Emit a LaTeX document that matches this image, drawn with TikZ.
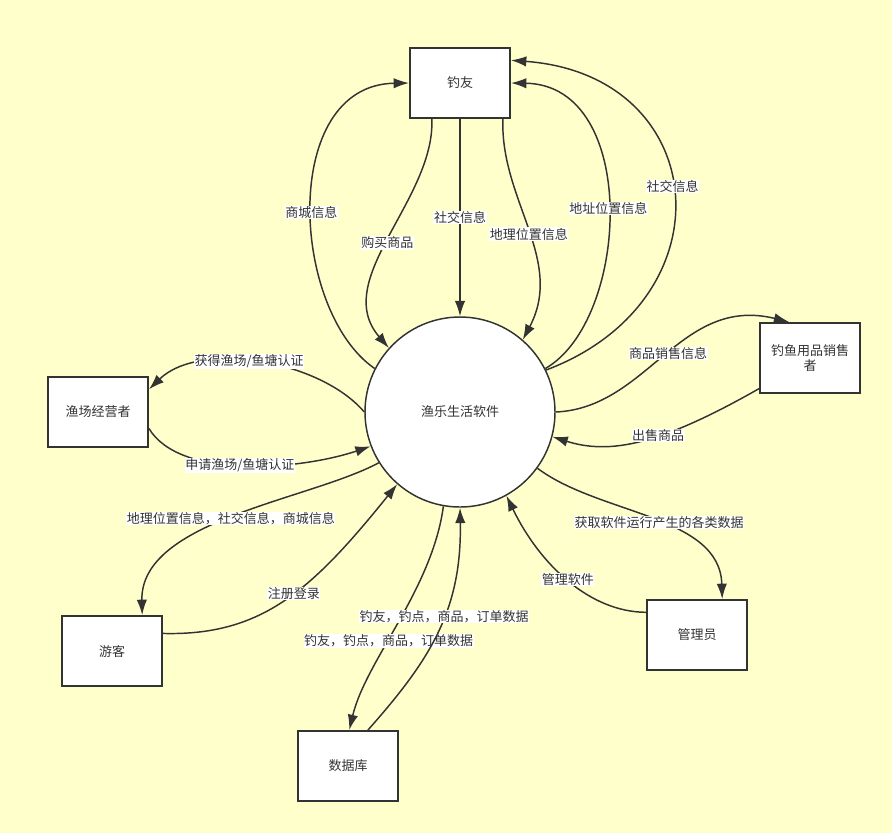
\documentclass[tikz,border=0pt]{standalone}
\usepackage{fontspec}
\setmainfont{Noto Sans CJK SC}
\usepackage{xcolor}
\usetikzlibrary{arrows.meta}
\definecolor{paper}{HTML}{FFFFCC}
\definecolor{ink}{HTML}{333333}

\begin{document}
\begin{tikzpicture}[x=0.75pt,y=-0.75pt]
\tikzstyle{extern}=[rectangle, draw=ink, line width=1.5pt, fill=white, minimum width=75pt, minimum height=52.5pt, align=center, text=ink, font=\fontsize{9.75pt}{11pt}\selectfont]
\tikzstyle{proc}=[circle, draw=ink, line width=1.1pt, fill=white, minimum size=142.5pt, text=ink, font=\fontsize{9.75pt}{11pt}\selectfont]
\tikzstyle{flow}=[-{Latex[length=11.5pt,width=7.8pt]}, draw=ink, line width=1.1pt]
\tikzstyle{lbl}=[fill=white, inner sep=0.4pt, text=ink, font=\fontsize{9.75pt}{11pt}\selectfont]
  \fill[paper] (0,0) rectangle (892,833);
  \useasboundingbox (0,0) rectangle (892,833);
  % entities
  \node[proc] (app) at (460,412) {渔乐生活软件};
  \node[extern] (angler) at (460,83) {钓友};
  \node[extern] (seller) at (810,358) {钓鱼用品销售\\者};
  \node[extern] (owner) at (98,412) {渔场经营者};
  \node[extern] (tourist) at (112,651) {游客};
  \node[extern] (db) at (348,766) {数据库};
  \node[extern] (admin) at (697,635) {管理员};
  % flows with the angler
  \draw[flow] (app.153) .. controls (290,310) and (280,85) .. node[lbl,pos=0.48] (shop) {商城信息} (angler.west);
  \draw[flow] (angler.232) .. controls (435,200) and (330,280) .. node[lbl,pos=0.52] (buy) {购买商品} (app.138);
  \draw[flow] (angler) -- node[lbl,pos=0.5] (social) {社交信息} (app);
  \draw[flow] (angler.-40.5) .. controls (500,200) and (565,260) .. node[lbl,pos=0.52] (geo) {地理位置信息} (app.49.5);
  \draw[flow] (app.27) .. controls (630,320) and (640,85) .. node[lbl,pos=0.5] (addr) {地址位置信息} (angler.east);
  \draw[flow] (app.26) .. controls (732,300) and (712,75) .. node[lbl,pos=0.52] (socialback) {社交信息} (angler.24);
  % seller
  \draw[flow] (app.0) .. controls (648,408) and (680,295) .. node[lbl,pos=0.51] (sales) {商品销售信息} (seller.120);
  \draw[flow] (seller.211) .. controls (660,445) and (610,455) .. node[lbl,pos=0.41] (sell) {出售商品} (app.-15.6);
  % owner
  \draw[flow] (app.180) .. controls (320,360) and (200,340) .. node[lbl,pos=0.54] (grant) {获得渔场/鱼塘认证} (owner.24);
  \draw[flow] (owner.-18) .. controls (180,480) and (300,470) .. node[lbl,pos=0.48] (apply) {申请渔场/鱼塘认证} (app.201);
  % tourist
  \draw[flow] (app.212) .. controls (310,500) and (140,520) .. node[lbl,pos=0.51] (info) {地理位置信息，社交信息，商城信息} (tourist.50);
  \draw[flow] (tourist.19) .. controls (262,636) and (312,590) .. node[lbl,pos=0.54] (reg) {注册登录} (app.229);
  % database
  \draw[flow] (app.260.5) .. controls (432,590) and (366,660) .. node[lbl,pos=0.58] (store) {钓友，钓点，商品，订单数据} (db.88);
  \draw[flow] (db.61) .. controls (430,660) and (462,610) .. node[lbl,pos=0.57] (load) {钓友，钓点，商品，订单数据} (app.270);
  % admin
  \draw[flow] (app.-36) .. controls (600,515) and (720,515) .. node[lbl,pos=0.53] (stats) {获取软件运行产生的各类数据} (admin.55);
  \draw[flow] (admin.156) .. controls (590,612) and (540,565) .. node[lbl,pos=0.5] (manage) {管理软件} (app.-61);
\end{tikzpicture}
\end{document}
